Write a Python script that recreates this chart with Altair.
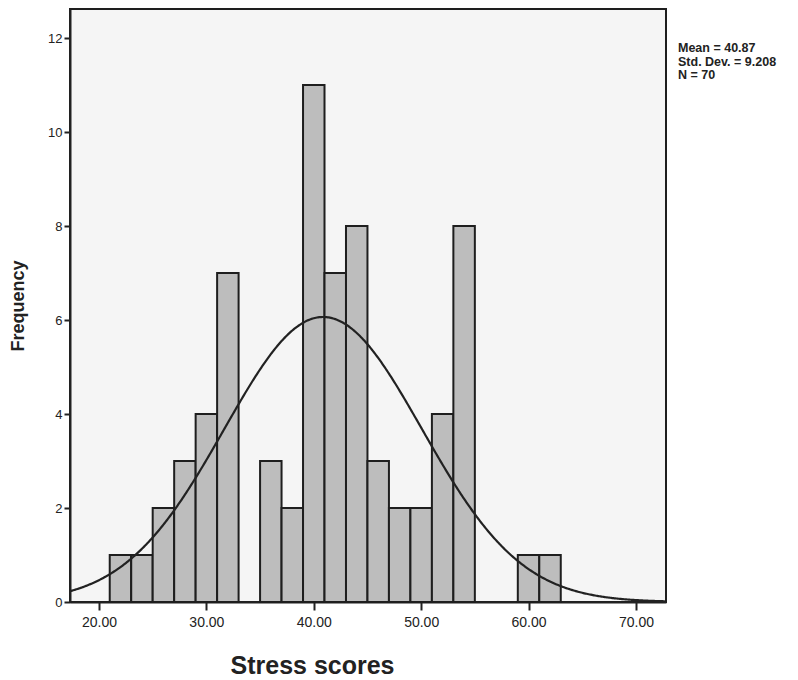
import altair as alt
import pandas as pd

# Histogram bins (left edges, width 2) and counts
BIN_LEFT = [21, 23, 25, 27, 29, 31, 33, 35, 37, 39, 41, 43, 45, 47, 49, 51, 53, 55, 57, 59, 61]
COUNTS = [1, 1, 2, 3, 4, 7, 0, 3, 2, 11, 7, 8, 3, 2, 2, 4, 8, 0, 0, 1, 1]
BIN_WIDTH = 2

# Summary statistics shown in the legend
MEAN = 40.87
SD = 9.208
N = 70
STATS_LINES = ["Mean = 40.87", "Std. Dev. = 9.208", "N = 70"]

X_TICKS = [20, 30, 40, 50, 60, 70]
Y_TICKS = [0, 2, 4, 6, 8, 10, 12]
X_DOMAIN = [17.3, 72.8]
Y_DOMAIN = [0, 12.62]

FONT = "Liberation Sans"

bars_df = pd.DataFrame({
    "left": BIN_LEFT,
    "right": [b + BIN_WIDTH for b in BIN_LEFT],
    "count": COUNTS,
})
bars_df = bars_df[bars_df["count"] > 0]

x_scale = alt.Scale(domain=X_DOMAIN, nice=False, zero=False, padding=0)
y_scale = alt.Scale(domain=Y_DOMAIN, nice=False, padding=0)

x_axis = alt.Axis(
    values=X_TICKS, format=".2f", grid=False, tickSize=8, tickWidth=2,
    tickColor="#222", domainColor="#222", domainWidth=2,
    labelFont=FONT, labelFontSize=14, labelColor="#222", labelPadding=5,
    title="Stress scores", titleFont=FONT, titleFontSize=25, titleFontWeight="bold",
    titleColor="#222", titleX=242, titleY=71, titleAnchor="middle",
    titleBaseline="alphabetic", titleAlign="center",
)
y_axis = alt.Axis(
    values=Y_TICKS, format="d", grid=False, tickSize=6, tickWidth=2,
    tickColor="#222", domainColor="#222", domainWidth=2,
    labelFont=FONT, labelFontSize=13, labelColor="#222", labelPadding=2,
    title="Frequency", titleFont=FONT, titleFontSize=18, titleFontWeight="bold",
    titleColor="#222", titlePadding=20,
)

bars = alt.Chart(bars_df).mark_bar(
    fill="#bdbdbd", stroke="#1e1e1e", strokeWidth=2, orient="vertical"
).encode(
    x=alt.X("left:Q", scale=x_scale, axis=x_axis),
    x2="right:Q",
    y=alt.Y("count:Q", scale=y_scale, axis=y_axis),
    y2=alt.datum(0),
)

curve = alt.Chart(alt.sequence(X_DOMAIN[0], X_DOMAIN[1], 0.1, as_="x")).transform_calculate(
    y=f"{N}*{BIN_WIDTH}/({SD}*sqrt(2*PI))*exp(-pow(datum.x-{MEAN},2)/(2*{SD}*{SD}))"
).mark_line(color="#222", strokeWidth=2.2, clip=True).encode(
    x=alt.X("x:Q", scale=x_scale),
    y=alt.Y("y:Q", scale=y_scale),
)

stats = alt.Chart(pd.DataFrame({"t": ["\n".join(STATS_LINES)]})).mark_text(
    align="left", baseline="alphabetic", font=FONT, fontSize=12.5, fontWeight="bold",
    lineBreak="\n", lineHeight=13.5, color="#222",
).encode(
    x=alt.value(608),
    y=alt.value(43),
    text="t:N",
)

chart = alt.layer(bars, curve, stats).properties(
    width=596, height=593,
    autosize=alt.AutoSizeParams(type="none"),
    padding={"left": 70, "top": 9, "right": 132, "bottom": 78},
    background="white",
).configure_view(
    stroke="#1e1e1e", strokeWidth=2, fill="#f5f5f5",
)

chart.save("out.html", embed_options={"renderer": "svg", "actions": False})
